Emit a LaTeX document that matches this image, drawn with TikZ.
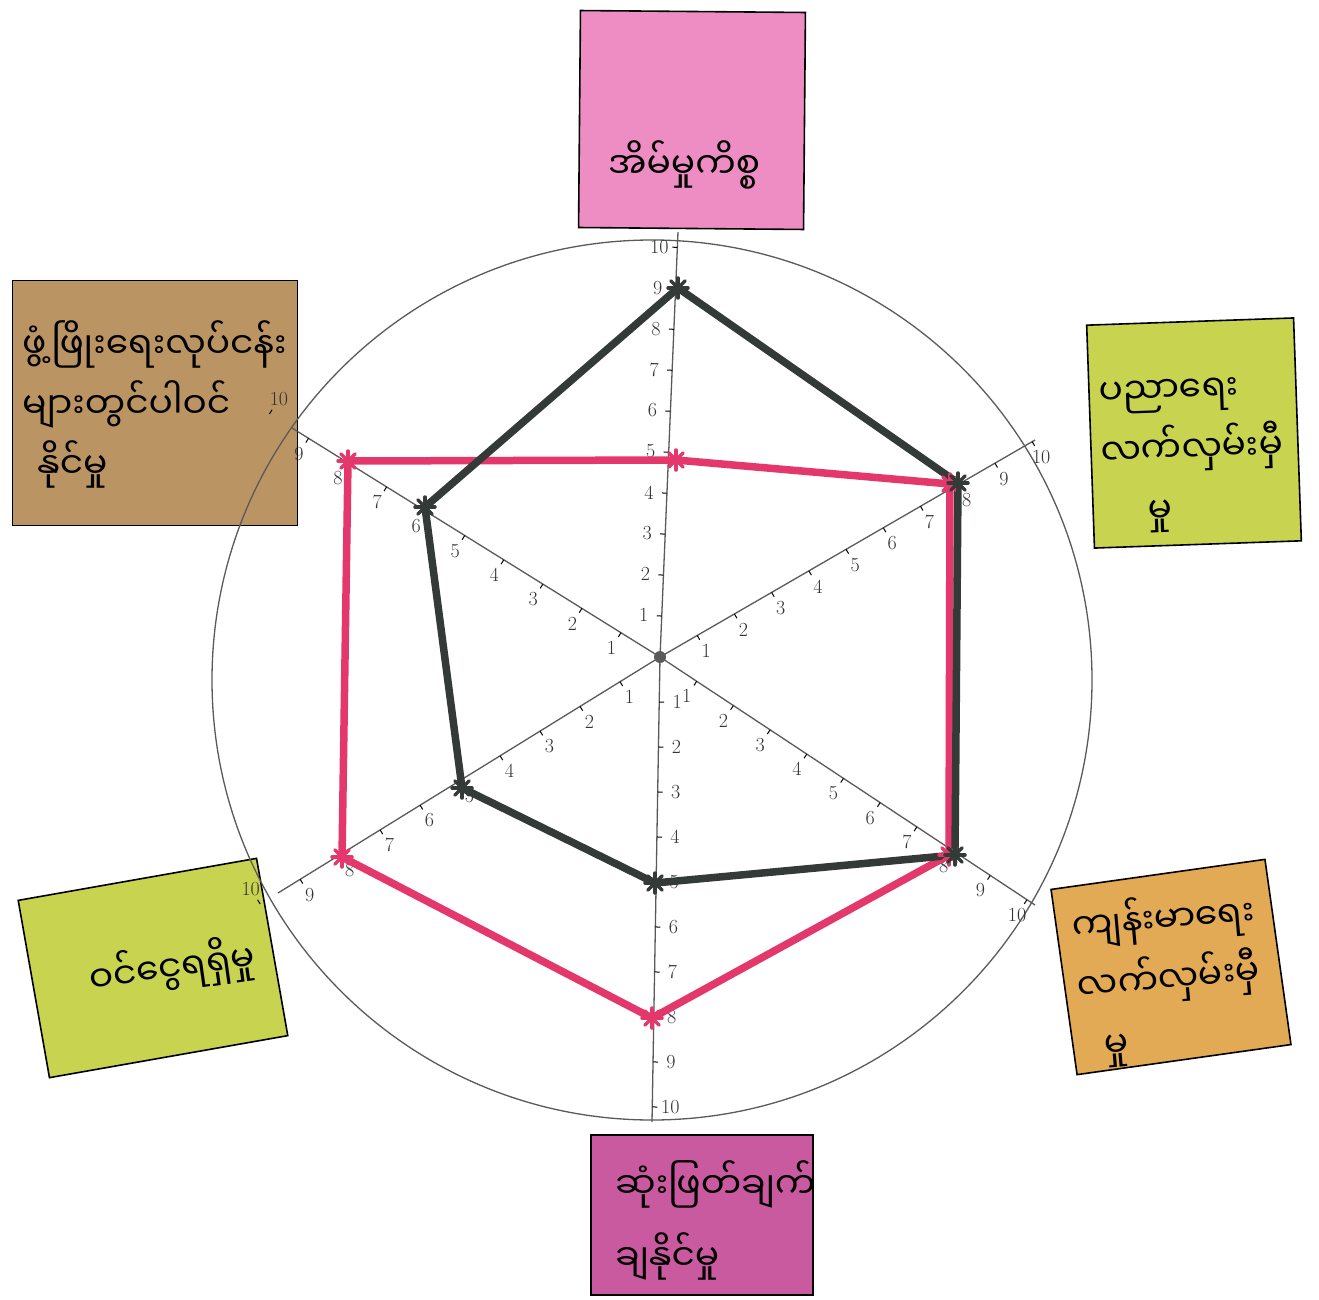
\documentclass[tikz,border=0pt]{standalone}
\usepackage{fontspec}
\newfontfamily\mya[Script=Myanmar]{Noto Sans Myanmar UI}
\usetikzlibrary{calc}
\definecolor{pinkc}{RGB}{238,140,196}
\definecolor{tanc}{RGB}{186,148,98}
\definecolor{limec}{RGB}{200,212,80}
\definecolor{orangec}{RGB}{226,170,84}
\definecolor{magc}{RGB}{202,90,160}
\definecolor{polyblack}{RGB}{52,58,55}
\definecolor{polyred}{RGB}{228,56,108}
\definecolor{axisc}{RGB}{90,90,90}
\tikzset{
  box/.style={draw=black, line width=1.6pt, inner sep=0pt},
  mytxt/.style={font=\mya\fontsize{36}{60}\selectfont, inner sep=0pt, align=left},
  axisline/.style={draw=axisc, line width=1.3pt},
  circline/.style={draw=axisc, line width=1.3pt},
  tickline/.style={draw=black, line width=1pt},
  num/.style={font=\fontsize{20}{20}\selectfont, text=black!80, inner sep=0pt},
  polyline/.style={line width=7.5pt, line join=round, line cap=round},
  astk/.pic={\foreach \a in {0,45,90,135} \draw[line width=3.5pt, line cap=round] (\a:10pt) -- (\a+180:10pt);}
}
\begin{document}
\begin{tikzpicture}[x=1pt,y=-1pt]
\useasboundingbox (0,0) rectangle (1319,1300);
\fill[white] (0,0) rectangle (1319,1300);

% boxes
\node[box, fill=pinkc, minimum width=225pt, minimum height=217pt, rotate=-0.5] (boxTop) at (692,120) {};
\node[box, fill=tanc, minimum width=285pt, minimum height=245pt] (boxUL) at (155,403) {};
\node[box, fill=limec, minimum width=207pt, minimum height=223pt, rotate=2] (boxUR) at (1194,433) {};
\node[box, fill=orangec, minimum width=216pt, minimum height=187pt, rotate=8] (boxLR) at (1171,967) {};
\node[box, fill=limec, minimum width=242pt, minimum height=180pt, rotate=10] (boxLL) at (153,968) {};
\node[box, fill=magc, minimum width=222pt, minimum height=160pt] (boxB) at (702,1215) {};

% texts
\node[mytxt, anchor=west] (tTop) at (608,165) {အိမ်မှုကိစ္စ};
\node[mytxt, anchor=north west] (tUL) at (22,320) {ဖွံ့ဖြိုးရေးလုပ်ငန်း\\များတွင်ပါဝင်\\\hspace{15pt}နိုင်မှု};
\node[mytxt, anchor=north west, rotate=2] (tUR) at (1098,382) {ပညာရေး\\လက်လှမ်းမှီ\\\hspace{45pt}မှု};
\node[mytxt, anchor=north west, rotate=5] (tLR) at (1070,903) {ကျန်းမာရေး\\လက်လှမ်းမှီ\\\hspace{22pt}မှု};
\node[mytxt, rotate=8] (tLL) at (172,968) {ဝင်ငွေရရှိမှု};
\node[mytxt, anchor=north west, font=\mya\fontsize{36}{72}\selectfont] (tB) at (615,1160) {ဆုံးဖြတ်ချက်\\ချနိုင်မှု};

% circle
\coordinate (cc) at (652,680);
\draw[circline] (cc) circle[radius=440pt];

% axes
\coordinate (O) at (660,657);
\coordinate (eT) at (678,232);
\coordinate (eB) at (652,1122);
\coordinate (eUR) at (1035,440);
\coordinate (eLR) at (1035,905);
\coordinate (eLL) at (278,893);
\coordinate (eUL) at (292,428);
\foreach \e in {eT,eB,eUR,eLR,eLL,eUL} \draw[axisline] (O) -- (\e);
\foreach \e/\d/\s in {eT/41/90, eB/45/90, eUR/43/-90, eLR/44/-90, eLL/47/90, eUL/46/90} {
  \foreach \k in {1,...,10} {
    \pgfmathsetmacro\dist{\k*\d}
    \coordinate (p) at ($(O)!\dist pt!(\e)$);
    \draw[tickline] (p) -- ($(p)!5pt!\s:(\e)$);
    \node[num] at ($(p)!18pt!\s:(\e)$) {\k};
  }
}
\fill[axisc] (O) circle[radius=6pt];

% red polygon
\coordinate (rT) at (676,460);
\coordinate (rUR) at (950,484);
\coordinate (rLR) at (949,855);
\coordinate (rB) at (652,1018);
\coordinate (rLL) at (342,857);
\coordinate (rUL) at (348,461);
\draw[polyline, polyred] (rT) -- (rUR) -- (rLR) -- (rB) -- (rLL) -- (rUL) -- cycle;

% black polygon
\coordinate (bT) at (678,288);
\coordinate (bUR) at (958,483);
\coordinate (bLR) at (955,855);
\coordinate (bB) at (655,883);
\coordinate (bLL) at (462,788);
\coordinate (bUL) at (425,507);
\draw[polyline, polyblack] (bT) -- (bUR) -- (bLR) -- (bB) -- (bLL) -- (bUL) -- cycle;

\foreach \v in {rT,rUR,rLR,rB,rLL,rUL} \pic[color=polyred] at (\v) {astk};
\foreach \v in {bT,bUR,bLR,bB,bLL,bUL} \pic[color=polyblack] at (\v) {astk};
\end{tikzpicture}
\end{document}
